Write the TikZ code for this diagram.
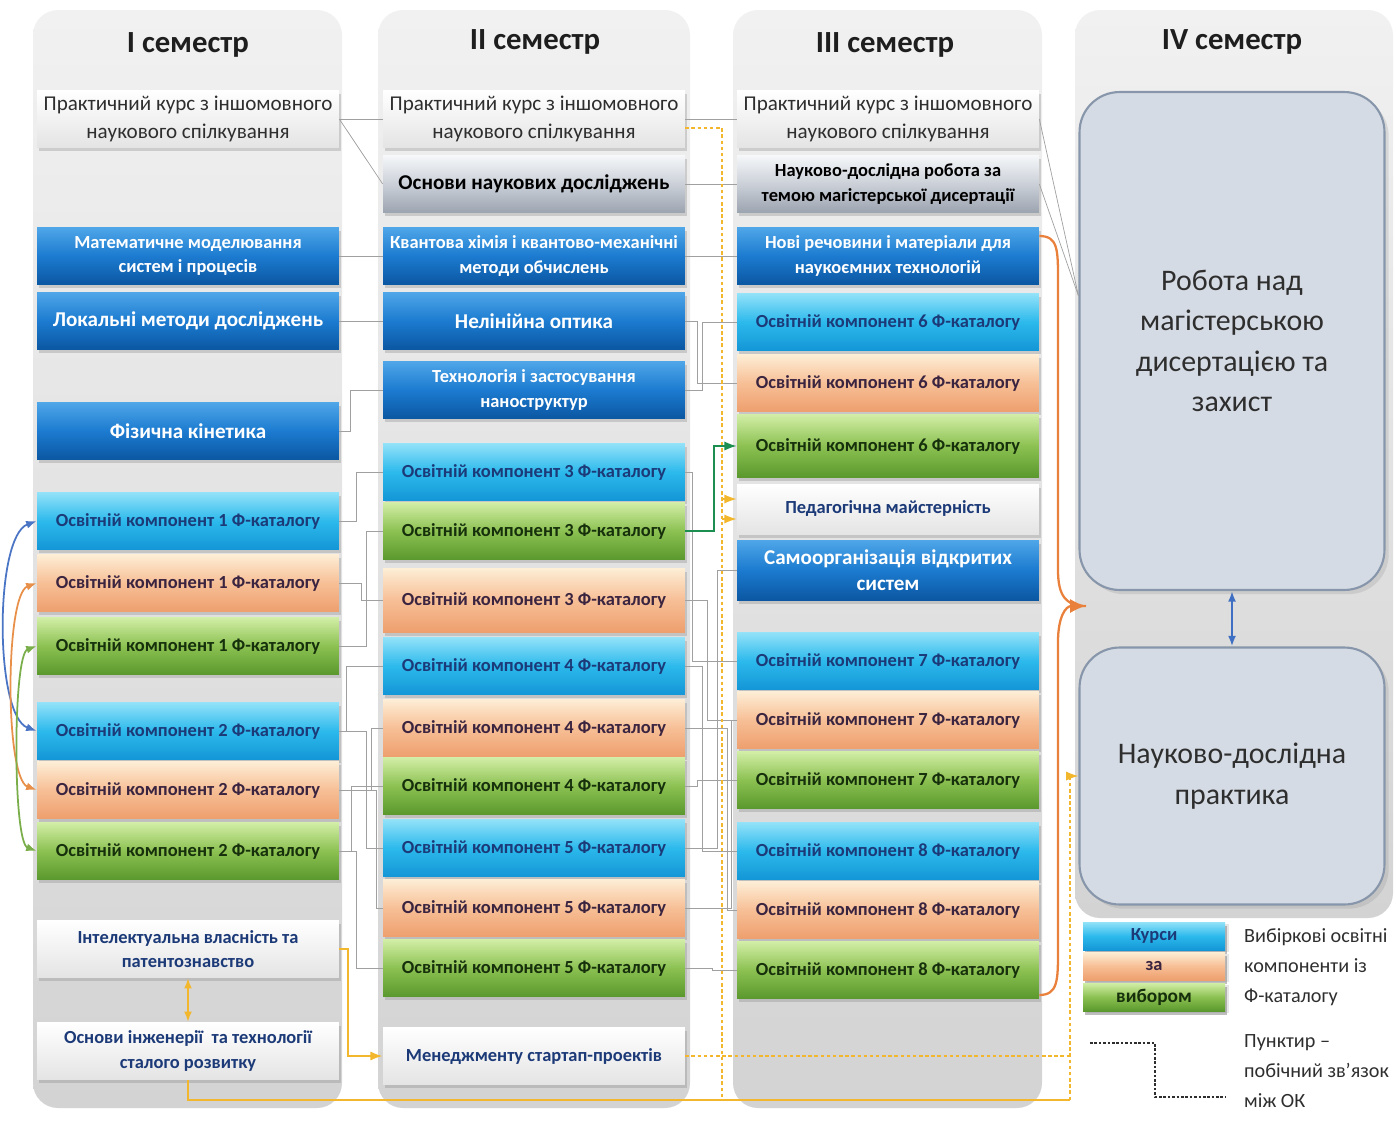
\documentclass[tikz,border=0pt]{standalone}
\usepackage{fontspec}
\setmainfont{Carlito}
\usetikzlibrary{arrows.meta,shadows}

\definecolor{bluetop}{HTML}{4FA6E8}
\definecolor{bluemid}{HTML}{1C7BD0}
\definecolor{bluebot}{HTML}{0B57A2}
\definecolor{cyantop}{HTML}{92E2F8}
\definecolor{cyanmid}{HTML}{2CB9EC}
\definecolor{cyanbot}{HTML}{1496D6}
\definecolor{peachtop}{HTML}{FDEED6}
\definecolor{peachmid}{HTML}{F7BF96}
\definecolor{peachbot}{HTML}{EE9F6E}
\definecolor{greentop}{HTML}{D2EEA6}
\definecolor{greenmid}{HTML}{8CC152}
\definecolor{greenbot}{HTML}{5A982D}
\definecolor{greytop}{HTML}{F5F7F9}
\definecolor{greymid}{HTML}{CBD0D8}
\definecolor{greybot}{HTML}{9CA4B0}
\definecolor{whitebot}{HTML}{E4E4E4}
\definecolor{coltop}{HTML}{F1F1F1}
\definecolor{colbot}{HTML}{D3D3D3}
\definecolor{navy}{HTML}{1C3A78}
\definecolor{plumtext}{HTML}{3A2440}
\definecolor{greentext}{HTML}{16300C}
\definecolor{darktext}{HTML}{2E2E2E}
\definecolor{headtext}{HTML}{1E1E1E}
\definecolor{finalfill}{HTML}{D5DBE4}
\definecolor{finaldraw}{HTML}{8796AA}
\definecolor{busgrey}{HTML}{A0A0A0}
\definecolor{yellowline}{HTML}{F2B72C}
\definecolor{orangeline}{HTML}{E9813C}
\definecolor{blueline}{HTML}{3F6FC2}
\definecolor{greenline}{HTML}{1C8E50}
\definecolor{arrblue}{HTML}{4A74C4}
\definecolor{arrorange}{HTML}{E8904A}
\definecolor{arrgreen}{HTML}{7AAE4A}

\begin{document}
\begin{tikzpicture}[x=0.02cm, y=-0.02cm,
  box/.style={rectangle, minimum width=6.04cm, minimum height=1.14cm, inner sep=1pt, align=center,
    font=\fontsize{10.5}{14}\selectfont\bfseries,
    drop shadow={opacity=0.3, shadow xshift=0.04cm, shadow yshift=-0.07cm}},
  blue box/.style={box, top color=bluetop, bottom color=bluebot, middle color=bluemid, text=white},
  cyan box/.style={box, top color=cyantop, bottom color=cyanbot, middle color=cyanmid, text=navy},
  peach box/.style={box, top color=peachtop, bottom color=peachbot, middle color=peachmid, text=plumtext},
  green box/.style={box, top color=greentop, bottom color=greenbot, middle color=greenmid, text=greentext},
  grey box/.style={box, top color=greytop, bottom color=greybot, middle color=greymid, text=black},
  white box/.style={box, top color=white, bottom color=whitebot, text=navy},
  course box/.style={white box, font=\fontsize{12}{16}\selectfont, text=darktext},
  big/.style={font=\fontsize{12}{15}\selectfont\bfseries},
  head/.style={font=\fontsize{17.5}{20}\selectfont\bfseries, text=headtext},
  final box/.style={rectangle, rounded corners=0.8cm, draw=finaldraw, line width=1.2pt, fill=finalfill,
    minimum width=6.1cm, align=center, font=\fontsize{17}{23}\selectfont, text=darktext,
    drop shadow={opacity=0.2}},
  key box/.style={box, minimum width=2.84cm, minimum height=0.56cm, font=\fontsize{9}{10}\selectfont\bfseries,
    drop shadow={opacity=0.2, shadow yshift=-0.04cm}},
  key text/.style={align=left, anchor=west, font=\fontsize{11.5}{17}\selectfont, text=darktext},
  bus/.style={draw=busgrey, line width=0.4pt},
  yel/.style={draw=yellowline, line width=1.3pt},
  yel dash/.style={draw=yellowline, line width=0.9pt, dash pattern=on 2pt off 1.5pt},
  key dash/.style={draw=darktext, line width=0.8pt, dash pattern=on 1.5pt off 1pt},
  col bg/.style={top color=coltop, bottom color=colbot, rounded corners=0.5cm}]
\useasboundingbox (0,0) rectangle (1396,1126);

% semester columns
\shade[col bg] (33,10) rectangle (342,1108);
\shade[col bg] (378,10) rectangle (690,1108);
\shade[col bg] (733,10) rectangle (1042,1108);
\shade[col bg] (1075,10) rectangle (1393,918);

\node[head] (h1) at (188,45) {І семестр};
\node[head] (h2) at (535,42) {ІІ семестр};
\node[head] (h3) at (885,45) {ІІІ семестр};
\node[head] (h4) at (1232,42) {IV семестр};

% I semester
\node[course box] (p1) at (188,119) {Практичний курс з іншомовного\\наукового спілкування};
\node[blue box] (mm) at (188,256) {Математичне моделювання\\систем і процесів};
\node[blue box,big] (lm) at (188,321) {Локальні методи досліджень};
\node[blue box,big] (fk) at (188,431) {Фізична кінетика};
\node[cyan box] (a1) at (188,521) {Освітній компонент 1 Ф-каталогу};
\node[peach box] (b1) at (188,583) {Освітній компонент 1 Ф-каталогу};
\node[green box] (g1) at (188,646) {Освітній компонент 1 Ф-каталогу};
\node[cyan box] (a2) at (188,731) {Освітній компонент 2 Ф-каталогу};
\node[peach box] (b2) at (188,790) {Освітній компонент 2 Ф-каталогу};
\node[green box] (g2) at (188,851) {Освітній компонент 2 Ф-каталогу};
\node[white box] (iv) at (188,949) {Інтелектуальна власність та\\патентознавство};
\node[white box] (oi) at (188,1051) {Основи інженерії \ та технології\\сталого розвитку};

% II semester
\node[course box] (p2) at (534,119) {Практичний курс з іншомовного\\наукового спілкування};
\node[grey box,big] (on) at (534,184) {Основи наукових досліджень};
\node[blue box] (kh) at (534,256) {Квантова хімія і квантово-механічні\\методи обчислень};
\node[blue box,big] (no) at (534,321) {Нелінійна оптика};
\node[blue box] (tz) at (534,390) {Технологія і застосування\\наноструктур};
\node[cyan box] (a3) at (534,472) {Освітній компонент 3 Ф-каталогу};
\node[green box] (g3) at (534,531) {Освітній компонент 3 Ф-каталогу};
\node[peach box, minimum height=1.28cm] (b3) at (534,600) {Освітній компонент 3 Ф-каталогу};
\node[cyan box] (a4) at (534,666) {Освітній компонент 4 Ф-каталогу};
\node[peach box] (b4) at (534,728) {Освітній компонент 4 Ф-каталогу};
\node[green box] (g4) at (534,786) {Освітній компонент 4 Ф-каталогу};
\node[cyan box] (a5) at (534,848) {Освітній компонент 5 Ф-каталогу};
\node[peach box] (b5) at (534,908) {Освітній компонент 5 Ф-каталогу};
\node[green box] (g5) at (534,968) {Освітній компонент 5 Ф-каталогу};
\node[white box] (ms) at (534,1056) {Менеджменту стартап-проектів};

% III semester
\node[course box] (p3) at (888,119) {Практичний курс з іншомовного\\наукового спілкування};
\node[grey box] (nd) at (888,184) {Науково-дослідна робота за\\темою магістерської дисертації};
\node[blue box] (nr) at (888,256) {Нові речовини і матеріали для\\наукоємних технологій};
\node[cyan box] (a6) at (888,322) {Освітній компонент 6 Ф-каталогу};
\node[peach box] (b6) at (888,383) {Освітній компонент 6 Ф-каталогу};
\node[green box, minimum height=1.26cm] (g6) at (888,446) {Освітній компонент 6 Ф-каталогу};
\node[white box, minimum height=1cm] (pm) at (888,509) {Педагогічна майстерність};
\node[blue box,big, minimum height=1.2cm] (so) at (888,570) {Самоорганізація відкритих\\систем};
\node[cyan box] (a7) at (888,661) {Освітній компонент 7 Ф-каталогу};
\node[peach box] (b7) at (888,720) {Освітній компонент 7 Ф-каталогу};
\node[green box] (g7) at (888,780) {Освітній компонент 7 Ф-каталогу};
\node[cyan box] (a8) at (888,851) {Освітній компонент 8 Ф-каталогу};
\node[peach box] (b8) at (888,910) {Освітній компонент 8 Ф-каталогу};
\node[green box] (g8) at (888,970) {Освітній компонент 8 Ф-каталогу};

% IV semester
\node[final box, minimum height=9.96cm] (rd) at (1232,341) {Робота над\\магістерською\\дисертацією та\\захист};
\node[final box, minimum height=5.14cm] (np) at (1232,776) {Науково-дослідна\\практика};

% legend
\node[key box, cyan box, minimum width=2.84cm, minimum height=0.56cm] (k1) at (1154,936) {Курси};
\node[key box, peach box, minimum width=2.84cm, minimum height=0.56cm] (k2) at (1154,966) {за};
\node[key box, green box, minimum width=2.84cm, minimum height=0.56cm, font=\fontsize{11}{12}\selectfont\bfseries] (k3) at (1154,997) {вибором};
\node[key text] (kt1) at (1238,967) {Вибіркові освітні\\компоненти із\\Ф-каталогу};
\node[key text] (kt2) at (1238,1071) {Пунктир –\\побічний зв'язок\\між ОК};
\coordinate (d1) at (1090,1043);
\coordinate (d2) at (1225,1097);
\draw[key dash] (d1) -| (1155,1070) |- (d2);

% links between the courses
\draw[bus] (p1.east) -- (p2.west);
\draw[bus] (p1.east) -- (on.west);
\draw[bus] (p2.east) -- (p3.west);
\draw[bus] (on.east) -- (nd.west);
\draw[bus] (p3.east) -- ([yshift=0.9cm]rd.west);
\draw[bus] (nd.east) -- ([yshift=0.9cm]rd.west);
\draw[bus] (mm.east) -- (kh.west);
\draw[bus] (lm.east) -- (no.west);
\draw[bus] (kh.east) -- (nr.west);
\foreach \s/\t/\c in {fk/tz/350, a1/a3/356, b1/b3/361, g1/g3/366, a2/a4/346, b2/b4/371,
    g2/g4/351, a2/a5/366, b2/b5/376, g2/g5/356}
  \draw[bus] (\s.east) -| (\c,0 |- \t.west) -- (\t.west);
\foreach \s/\t/\c in {no/b6/697, tz/a6/702, a3/a7/692, b3/b7/707, g4/g7/697, a4/a8/702,
    b4/b8/727, a5/so/717, b5/b7/731, g5/g8/712}
  \draw[bus] (\s.east) -| (\c,0 |- \t.west) -- (\t.west);

% choice pairs in semester I
\draw[arrblue, line width=1pt, {Latex[length=6pt]}-{Latex[length=6pt]}] (a1.west) to[out=200, in=160, looseness=0.55] (a2.west);
\draw[arrorange, line width=1pt, {Latex[length=6pt]}-{Latex[length=6pt]}] (b1.west) to[out=200, in=160, looseness=0.42] (b2.west);
\draw[arrgreen, line width=1pt, {Latex[length=6pt]}-{Latex[length=6pt]}] (g1.west) to[out=200, in=160, looseness=0.32] (g2.west);

% main links
\draw[greenline, line width=1pt, -{Latex[length=7pt]}] (g3.east) -| ([xshift=-0.45cm]g6.west) -- (g6.west);
\coordinate (ot) at (1086,606);
\draw[orangeline, line width=1.3pt] ([yshift=0.4cm]nr.east) .. controls (1058,236) and (1058,250) .. (1058,280)
  -- (1058,570) .. controls (1058,596) and (1066,606) .. (ot);
\draw[orangeline, line width=1.3pt, -{Latex[length=9pt, width=8pt]}] ([yshift=-0.5cm]g8.east) .. controls (1058,995) and (1058,980) .. (1058,950)
  -- (1058,642) .. controls (1058,616) and (1066,606) .. (ot);
\draw[blueline, line width=1.2pt, {Latex[length=6pt]}-{Latex[length=6pt]}] (rd.south) -- (np.north);

% yellow links
\coordinate (yb) at (722,1100);
\coordinate (c9) at (1070,1100);
\draw[yel dash] ([yshift=-0.18cm]p2.east) -| (yb);
\path ([yshift=0.2cm]pm.west) coordinate (pm1) ([yshift=-0.2cm]pm.west) coordinate (pm2);
\draw[yel dash, -{Latex[length=7pt]}] (pm1 -| yb) -- (pm1);
\draw[yel dash, -{Latex[length=7pt]}] (pm2 -| yb) -- (pm2);
\draw[yel dash] (ms.east) -- (ms.east -| c9);
\draw[yel, {Latex[length=6pt]}-{Latex[length=6pt]}] (iv.south) -- (oi.north);
\draw[yel, -{Latex[length=7pt]}] (iv.east) -| ([xshift=-0.7cm]ms.west) -- (ms.west);
\draw[yel] (oi.south) |- (c9);
\draw[yel dash, -{Latex[length=7pt]}] (c9) |- (np.west);
\end{tikzpicture}
\end{document}
